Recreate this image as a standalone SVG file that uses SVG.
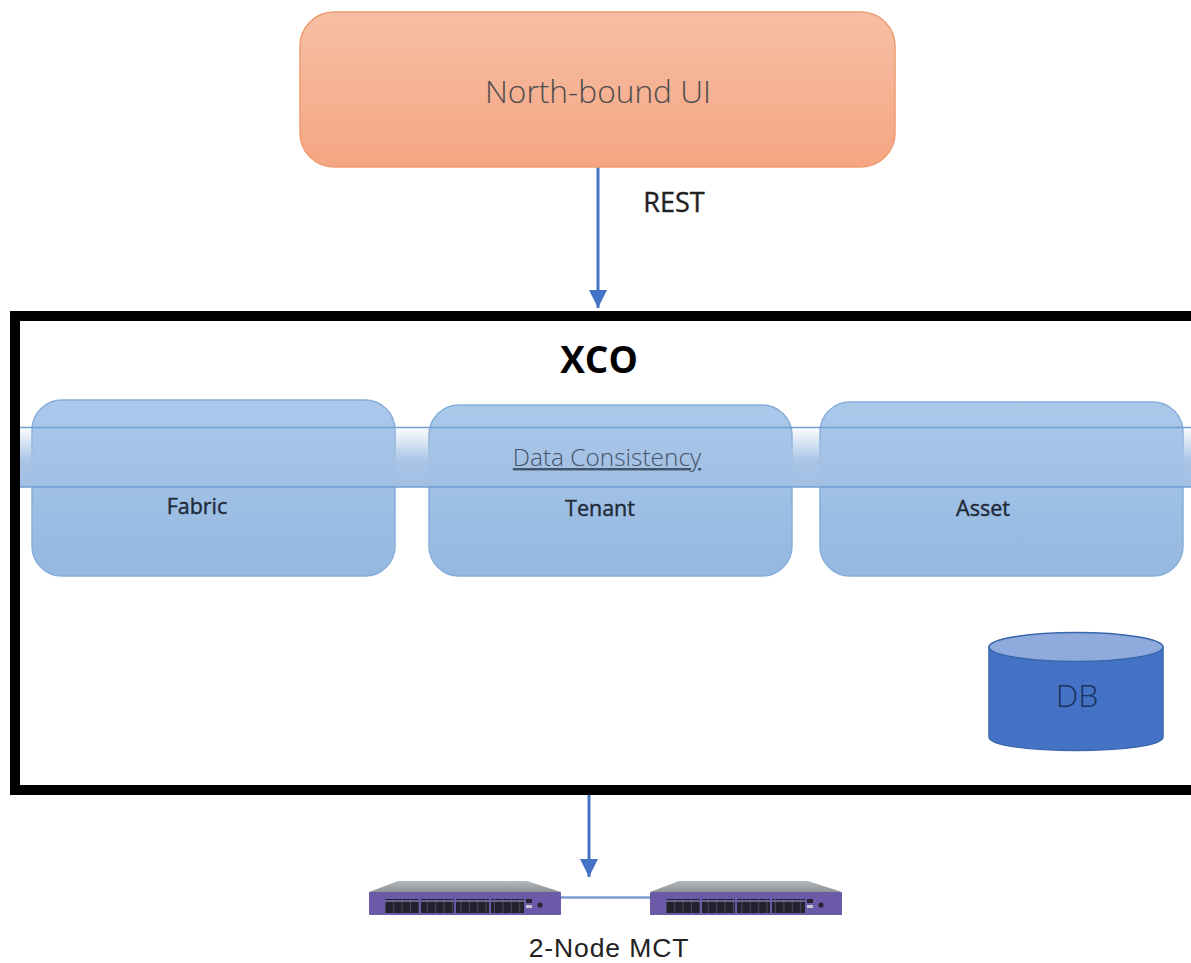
<svg xmlns="http://www.w3.org/2000/svg" width="1191" height="963" viewBox="0 0 1191 963">
<style>
.t{font-family:"Open Sans","Liberation Sans",sans-serif;text-anchor:middle}
.svc{fill:url(#svcg);stroke:#86aed8;stroke-width:1.5}
.lbl{font-size:21.500px;font-weight:400;fill:#1f2a38;stroke:#1f2a38;stroke-width:.4}
.conn{stroke:#4472c4;stroke-width:3;fill:none}
</style>
<defs>
<linearGradient id="orange" x1="0" y1="0" x2="0" y2="1"><stop offset="0" stop-color="#f6bfa5"/><stop offset="1" stop-color="#f5a582"/></linearGradient>
<linearGradient id="svcg" x1="0" y1="0" x2="0" y2="1"><stop offset="0" stop-color="#aac8ea"/><stop offset="1" stop-color="#95b8e0"/></linearGradient>
<linearGradient id="band" x1="0" y1="0" x2="0" y2="1"><stop offset="0" stop-color="#a5c2e5" stop-opacity="0"/><stop offset=".55" stop-color="#a5c2e5" stop-opacity=".95"/><stop offset="1" stop-color="#a0bfe3"/></linearGradient>
<linearGradient id="topg" x1="0" y1="0" x2="0" y2="1"><stop offset="0" stop-color="#b4b7ba"/><stop offset="1" stop-color="#8f9297"/></linearGradient>
<pattern id="ports" width="8.4" height="14" patternUnits="userSpaceOnUse"><rect width="8.4" height="14" fill="#24232e"/><rect x="7.4" width="1" height="14" fill="#4a4860"/><rect y="6" width="8.4" height="2" fill="#6a6491"/></pattern>
<filter id="soft" x="-5%" y="-5%" width="110%" height="110%"><feGaussianBlur stdDeviation="0.5"/></filter>
<marker id="arrow" markerUnits="userSpaceOnUse" markerWidth="20" markerHeight="20" refX="18" refY="10" orient="auto"><path d="M0 1 L18 10 L0 19 Z" fill="#4472c4"/></marker>
<g id="switch" filter="url(#soft)">
<path d="M0 12 L29 1 L158 1 L192 12 Z" fill="url(#topg)"/>
<rect x="0" y="12" width="192" height="23" rx="1" fill="#6a5aa8"/>
<rect x="16" y="19" width="139" height="14" fill="url(#ports)"/>
<rect x="50" y="19" width="2" height="14" fill="#6a5aa8"/>
<rect x="85" y="19" width="2" height="14" fill="#6a5aa8"/>
<rect x="120" y="19" width="2" height="14" fill="#6a5aa8"/>
<rect x="157" y="19" width="6" height="4" fill="#25242e"/>
<rect x="157" y="25" width="6" height="3" fill="#c7c7d2"/>
<circle cx="171" cy="25" r="2.600" fill="#25242e"/>
</g>
</defs>
<rect width="1191" height="963" fill="#fff"/>
<g id="connectors">
<path class="conn" d="M598 167 V308" marker-end="url(#arrow)"/>
<path class="conn" d="M589 795 V877" marker-end="url(#arrow)"/>
<path d="M560 897.500 H650" stroke="#7b9ad0" stroke-width="2.500" fill="none"/>
</g>
<g id="north-bound-ui">
<rect x="300" y="12" width="595" height="155" rx="34" fill="url(#orange)" stroke="#ee9c70" stroke-width="1.500"/>
<text class="t" x="598" y="103" font-size="31.700" fill="#4d4d4d" font-weight="300">North-bound UI</text>
</g>
<text class="t" x="674" y="212" font-size="27" font-weight="400" fill="#222" stroke="#222" stroke-width=".4">REST</text>
<g id="xco">
<path d="M1191 316 H15 V790 H1191" fill="#fff" stroke="#000" stroke-width="10"/>
<text class="t" x="599" y="373" font-size="37" font-weight="700" fill="#000">XCO</text>
</g>
<g id="fabric"><rect class="svc" x="32" y="400" width="363" height="176" rx="30"/><text class="t lbl" x="197" y="514">Fabric</text></g>
<g id="tenant"><rect class="svc" x="429" y="405" width="363" height="171" rx="30"/><text class="t lbl" x="600" y="516">Tenant</text></g>
<g id="asset"><rect class="svc" x="820" y="402" width="363" height="174" rx="30"/><text class="t lbl" x="983" y="516">Asset</text></g>
<g id="data-consistency">
<rect x="20" y="427" width="1171" height="60" fill="url(#band)"/>
<path d="M20 427.500 H1191 M20 487 H1191" stroke="#6f9fd2" stroke-width="1.500" fill="none"/>
<text class="t" x="607" y="466" font-size="24.400" fill="#44546a" font-weight="300" text-decoration="underline">Data Consistency</text>
</g>
<g id="db">
<path d="M989 647 V737 C989 755 1163 755 1163 737 V647 Z" fill="#4472c4" stroke="#3a66ad" stroke-width="1.500"/>
<ellipse cx="1076" cy="647" rx="87" ry="14.500" fill="#8faadc" stroke="#3a66ad" stroke-width="1.500"/>
<text class="t" x="1077" y="707" font-size="32" fill="#1c3461" font-weight="300">DB</text>
</g>
<g id="switch-1"><use href="#switch" x="369" y="880"/></g>
<g id="switch-2"><use href="#switch" x="650" y="880"/></g>
<text id="mct" x="609" y="957" text-anchor="middle" font-family="'Liberation Sans',sans-serif" font-size="26.500" letter-spacing="0.900" fill="#222">2-Node MCT</text>
</svg>
